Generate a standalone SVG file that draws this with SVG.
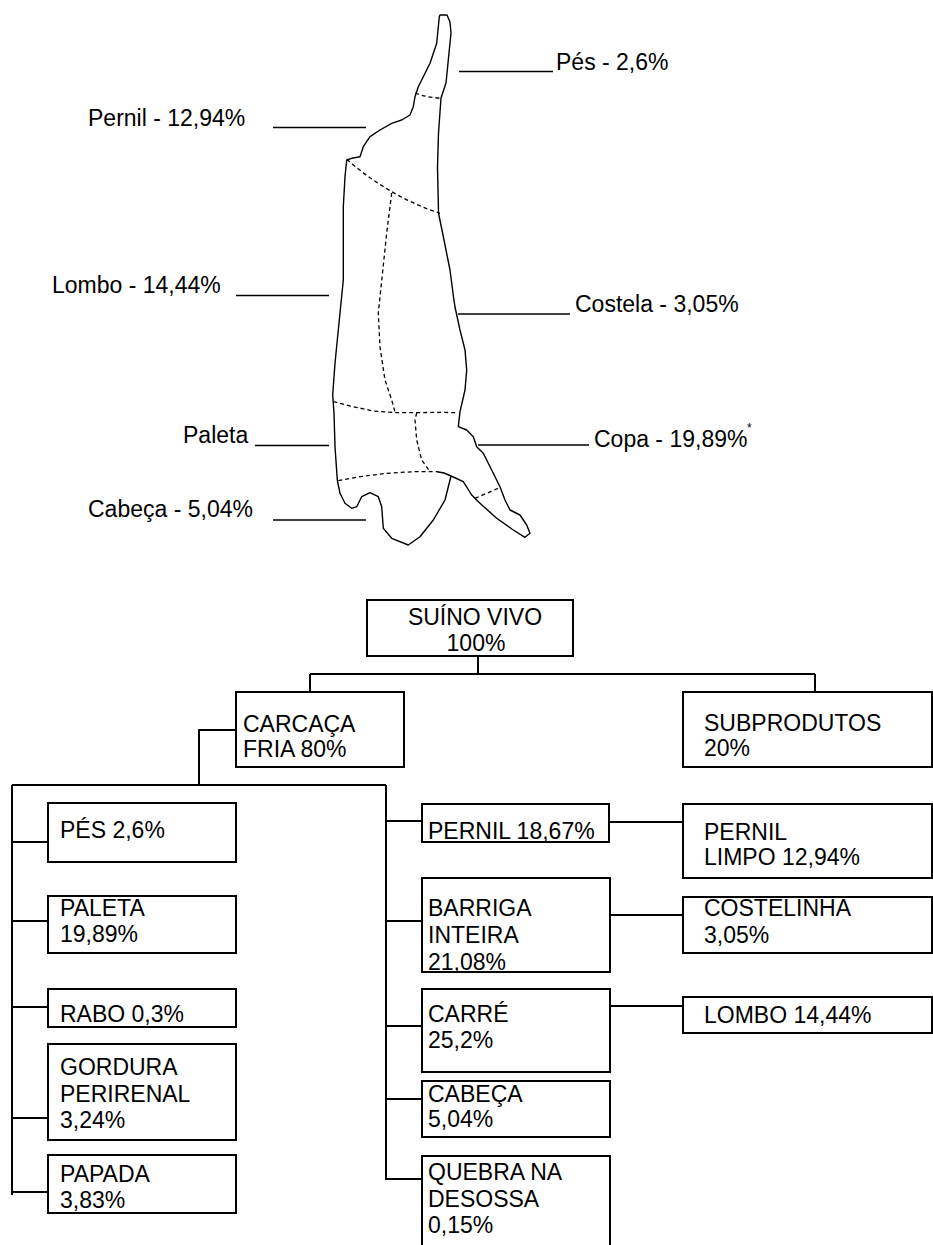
<svg xmlns="http://www.w3.org/2000/svg" width="933" height="1245" viewBox="0 0 933 1245">
<style>
.box{fill:#fff;stroke:#000;stroke-width:2}
.t{font-family:"Liberation Sans",Arial,sans-serif;font-size:23px;fill:#000}
.lbl{font-family:"Liberation Sans",Arial,sans-serif;font-size:23px;fill:#000}
.conn{fill:none;stroke:#000;stroke-width:2}
.lead{fill:none;stroke:#000;stroke-width:1.5}
.outline{fill:none;stroke:#000;stroke-width:1.4;stroke-linejoin:round}
.cut{fill:none;stroke:#000;stroke-width:1.3;stroke-dasharray:4 3}
</style>
<rect width="933" height="1245" fill="#fff"/>

<!-- carcass drawing -->
<g id="carcass">
<path class="outline" d="M440,15 L447,15 L450,22 L451,33 L449,53 L446,83 L441,98 L438.5,133 L437.5,167 L438.5,213 L444,240 L450,270 L453.5,297 L455,307 L460,330 L465,350 L466.7,370 L465,390 L460,411.7 L458.3,426.7 L466.7,430 L473.3,436.7 L476.7,446.7 L483.3,453.3 L493.3,473.3 L500,486.7 L505,500 L510,510 L520,515 L526.7,525 L530,533.3 L525,537.3 L513.3,530 L496.7,518.3 L480,503.3 L471.7,495 L463.3,481.7 L451,476 L450,480 L445,500 L433.3,520 L420,536.7 L408.3,545 L391.7,538.3 L383.3,528.3 L381.7,506.7 L378.3,496.7 L370,492.7 L361.7,496.7 L356.7,506.7 L351.7,508.3 L345,503.3 L340,493.3 L337.3,480 L335,446.7 L334,413.3 L332.7,395 L335,363.3 L338.3,330 L343.3,280 L343.3,206.7 L345,176.7 L346.7,160 L351.7,158.3 L360,156.7 L363.3,146.7 L370,136.7 L380,130 L391.7,123.3 L401.7,120 L410,115 L413.3,106.7 L415,96.7 L418.3,86.7 L423.3,76.7 L430,63.3 L436.7,43.3 L439.3,16.7 Z"/>
<path class="outline" d="M451,476 L444,473 L437,471.7"/>
<path class="cut" d="M415,93 Q428,98 441,98"/>
<path class="cut" d="M346.7,159.3 Q390,197 440,213.3"/>
<path class="cut" d="M391.7,193 L386.7,233 L380,297 L378.3,313 L380,347 L385,380 L391.7,400 L395,412"/>
<path class="cut" d="M333.3,401.7 L353.3,406.7 L373.3,411 L396.7,412.7 L416.7,412.7 L436.7,412.3 L458.3,412.7"/>
<path class="cut" d="M416.7,412.7 L415,420 L416.7,440 L421.7,460 L430,471.7"/>
<path class="cut" d="M338.3,480.7 L360,476.7 L386.7,473.3 L413.3,471.7 L437,471.7"/>
<path class="cut" d="M475,498.3 L498.3,488.3"/>
</g>

<!-- carcass labels -->
<g id="carcass-labels">
<path class="lead" d="M459,71.5 H553"/>
<text class="lbl" x="556" y="70">Pés - 2,6%</text>
<path class="lead" d="M273,127.5 H366"/>
<text class="lbl" x="88" y="126">Pernil - 12,94%</text>
<path class="lead" d="M236,295.5 H329"/>
<text class="lbl" x="52" y="293">Lombo - 14,44%</text>
<path class="lead" d="M458,314 H570"/>
<text class="lbl" x="575" y="312">Costela - 3,05%</text>
<path class="lead" d="M255,445.5 H329"/>
<text class="lbl" x="183" y="443">Paleta</text>
<path class="lead" d="M478,445 H589"/>
<text class="lbl" x="594" y="447">Copa - 19,89%</text>
<text class="lbl" x="747" y="432" style="font-size:12px">*</text>
<path class="lead" d="M273,520 H366"/>
<text class="lbl" x="88" y="517">Cabeça - 5,04%</text>
</g>

<!-- connectors -->
<g id="connectors">
<path class="conn" d="M478,656 V674 M310,674 H815 M310,674 V692 M815,674 V692"/>
<path class="conn" d="M236,730 H199 V785 M12,785 H386"/>
<path class="conn" d="M12,785 V1195 M12,842 H48 M12,921 H48 M12,1007 H48 M12,1118 H48 M12,1192 H48"/>
<path class="conn" d="M386,785 V1180 M386,821 H422 M386,921 H422 M386,1026 H422 M386,1099 H422 M386,1179 H422"/>
<path class="conn" d="M609,822 H683 M610,915 H683 M610,1006 H683"/>
</g>

<g id="suino-vivo">
<rect class="box" x="367" y="600" width="206" height="56"/>
<text class="t" x="475" y="625" text-anchor="middle">SUÍNO VIVO</text>
<text class="t" x="476" y="651" text-anchor="middle">100%</text>
</g>
<g id="carcaca-fria">
<rect class="box" x="236" y="692" width="168" height="75"/>
<text class="t" x="243" y="732">CARCAÇA</text>
<text class="t" x="243" y="757">FRIA 80%</text>
</g>
<g id="subprodutos">
<rect class="box" x="683" y="692" width="249" height="75"/>
<text class="t" x="704" y="731">SUBPRODUTOS</text>
<text class="t" x="704" y="756">20%</text>
</g>

<g id="pes">
<rect class="box" x="48" y="803" width="188" height="59"/>
<text class="t" x="60" y="838">PÉS 2,6%</text>
</g>
<g id="paleta">
<rect class="box" x="48" y="896" width="188" height="57"/>
<text class="t" x="60" y="916">PALETA</text>
<text class="t" x="60" y="942">19,89%</text>
</g>
<g id="rabo">
<rect class="box" x="48" y="989" width="188" height="38"/>
<text class="t" x="60" y="1022">RABO 0,3%</text>
</g>
<g id="gordura-perirenal">
<rect class="box" x="48" y="1044" width="188" height="96"/>
<text class="t" x="60" y="1075">GORDURA</text>
<text class="t" x="60" y="1102">PERIRENAL</text>
<text class="t" x="60" y="1128">3,24%</text>
</g>
<g id="papada">
<rect class="box" x="48" y="1155" width="188" height="58"/>
<text class="t" x="60" y="1182">PAPADA</text>
<text class="t" x="60" y="1208">3,83%</text>
</g>

<g id="pernil">
<rect class="box" x="422" y="804" width="187" height="38"/>
<text class="t" x="428" y="839">PERNIL 18,67%</text>
</g>
<g id="barriga-inteira">
<rect class="box" x="422" y="878" width="188" height="94"/>
<text class="t" x="428" y="916">BARRIGA</text>
<text class="t" x="428" y="943">INTEIRA</text>
<text class="t" x="428" y="970">21,08%</text>
</g>
<g id="carre">
<rect class="box" x="422" y="989" width="188" height="83"/>
<text class="t" x="428" y="1022">CARRÉ</text>
<text class="t" x="428" y="1048">25,2%</text>
</g>
<g id="cabeca">
<rect class="box" x="422" y="1081" width="188" height="56"/>
<text class="t" x="428" y="1102">CABEÇA</text>
<text class="t" x="428" y="1127">5,04%</text>
</g>
<g id="quebra-desossa">
<rect class="box" x="422" y="1156" width="188" height="100"/>
<text class="t" x="428" y="1180">QUEBRA NA</text>
<text class="t" x="428" y="1207">DESOSSA</text>
<text class="t" x="428" y="1233">0,15%</text>
</g>

<g id="pernil-limpo">
<rect class="box" x="683" y="804" width="249" height="74"/>
<text class="t" x="704" y="840">PERNIL</text>
<text class="t" x="704" y="865">LIMPO 12,94%</text>
</g>
<g id="costelinha">
<rect class="box" x="683" y="897" width="249" height="56"/>
<text class="t" x="704" y="916">COSTELINHA</text>
<text class="t" x="704" y="943">3,05%</text>
</g>
<g id="lombo">
<rect class="box" x="683" y="997" width="249" height="36"/>
<text class="t" x="704" y="1023">LOMBO 14,44%</text>
</g>
</svg>
